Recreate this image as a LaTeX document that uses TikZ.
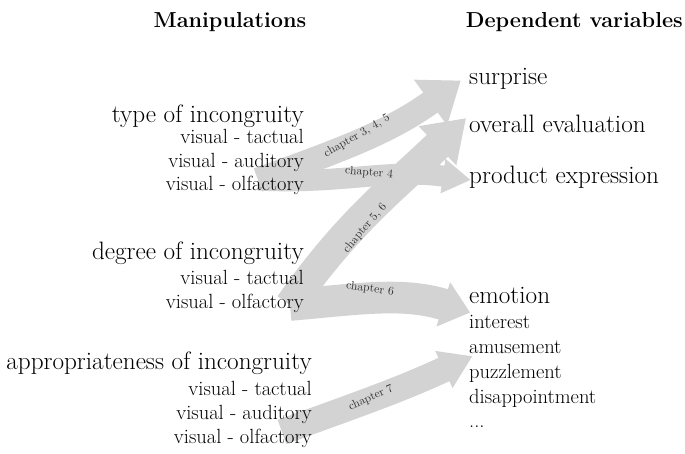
\documentclass[tikz,border=0pt]{standalone}
\usetikzlibrary{arrows.meta,backgrounds}

\definecolor{flowgray}{RGB}{211,211,211}
\definecolor{chapgray}{RGB}{50,50,50}

\tikzset{
  flow/.style n args={3}{draw=flowgray, line width=#1,
    -{Triangle[width=#2, length=#3]}},
  header/.style={anchor=base, inner sep=0pt, font=\bfseries\fontsize{18.5}{21}\selectfont},
  manip/.style={anchor=base east, inner sep=0pt, font=\fontsize{21.5}{24}\selectfont},
  level/.style={anchor=base east, inner sep=0pt, font=\fontsize{17.5}{20}\selectfont},
  depvar/.style={anchor=base west, inner sep=0pt, font=\fontsize{21.5}{24}\selectfont},
  subvar/.style={anchor=base west, inner sep=0pt, font=\fontsize{17.5}{20}\selectfont},
  chap/.style={inner sep=0pt, text=chapgray, font=\fontsize{10}{12}\selectfont},
}

\begin{document}
\begin{tikzpicture}[x=0.03cm, y=-0.03cm]
  \useasboundingbox (0,0) rectangle (685,453);

  % column headers
  \node[header] (manhead) at (230,28) {Manipulations};
  \node[header, anchor=base east] (dephead) at (683,28) {Dependent variables};

  % manipulations
  \node[manip] (type) at (304,122) {type of incongruity};
  \node[level] (typetac) at (304,143) {visual - tactual};
  \node[level] (typeaud) at (304,167) {visual - auditory};
  \node[level] (typeolf) at (304,190) {visual - olfactory};

  \node[manip] (degree) at (304,259) {degree of incongruity};
  \node[level] (degtac) at (304,284) {visual - tactual};
  \node[level] (degolf) at (304,308) {visual - olfactory};

  \node[manip] (approp) at (312,369) {appropriateness of incongruity};
  \node[level] (apptac) at (312,395) {visual - tactual};
  \node[level] (appaud) at (312,419) {visual - auditory};
  \node[level] (appolf) at (312,443) {visual - olfactory};

  % dependent variables
  \node[depvar] (surprise) at (469,85) {surprise};
  \node[depvar] (evaluation) at (469,132) {overall evaluation};
  \node[depvar] (expression) at (469,183) {product expression};
  \node[depvar] (emotion) at (469,303) {emotion};
  \node[subvar] (interest) at (469,328) {interest};
  \node[subvar] (amusement) at (469,353) {amusement};
  \node[subvar] (puzzlement) at (469,378) {puzzlement};
  \node[subvar] (disappointment) at (469,403) {disappointment};
  \node[subvar] (more) at (469,427) {...};

  % tails of the flows
  \coordinate (tailtype) at (258,180);
  \coordinate (taildeg) at (290,305);
  \coordinate (tailapp) at (282,432);

  \begin{scope}[on background layer]
    \draw[flow={21pt}{46pt}{32pt}] (tailtype) to[out=20, in=216]
      ([shift={(-7pt,-1pt)}]surprise.west);
    \draw[flow={18pt}{28pt}{24pt}] (tailtype) to[out=-3, in=172]
      ([shift={(1.5pt,-2.8pt)}]expression.west);
    \draw[flow={26pt}{44pt}{34pt}] (taildeg) to[out=55, in=224]
      ([shift={(-2.5pt,4.5pt)}]evaluation.west);
    \draw[flow={27pt}{38pt}{24pt}] (taildeg) to[out=5, in=163]
      ([shift={(1pt,-15pt)}]emotion.west);
    \draw[flow={22pt}{33pt}{27pt}] (tailapp) to[out=20, in=205]
      ([shift={(3pt,-8pt)}]amusement.west);
  \end{scope}

  % chapter labels along the flows
  \node[chap, rotate=30] (chapA) at (357,136) {chapter 3, 4, 5};
  \node[chap, rotate=-5] (chapB) at (369,173) {chapter 4};
  \node[chap, rotate=50] (chapC) at (365,228) {chapter 5, 6};
  \node[chap, rotate=-8] (chapD) at (370,289) {chapter 6};
  \node[chap, rotate=25] (chapE) at (371,398) {chapter 7};
\end{tikzpicture}
\end{document}
